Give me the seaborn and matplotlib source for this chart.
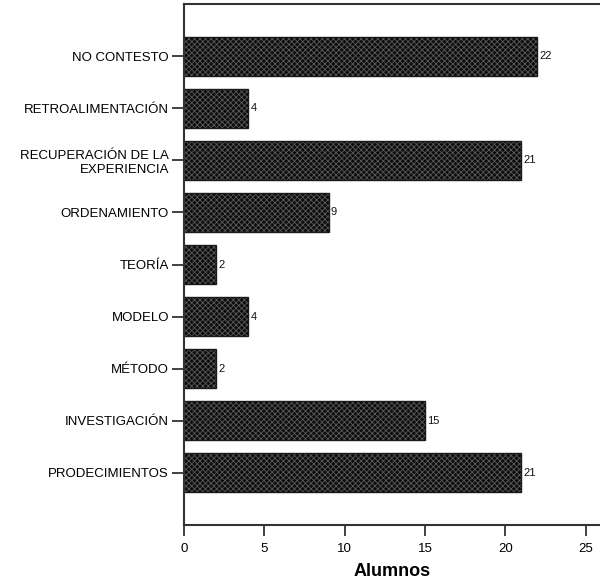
import matplotlib
matplotlib.use('Agg')
import matplotlib.pyplot as plt
from matplotlib.patches import Rectangle
import pandas as pd
import seaborn as sns

categorias = ['NO CONTESTO', 'RETROALIMENTACIÓN', 'RECUPERACIÓN DE LA\nEXPERIENCIA',
              'ORDENAMIENTO', 'TEORÍA', 'MODELO', 'MÉTODO', 'INVESTIGACIÓN',
              'PRODECIMIENTOS']
alumnos = [22, 4, 21, 9, 2, 4, 2, 15, 21]

sns.set_style('white')
plt.rcParams['font.family'] = ['Liberation Sans', 'DejaVu Sans']
plt.rcParams['hatch.linewidth'] = 0.6
plt.rcParams['text.color'] = 'black'

df = pd.DataFrame({'categoria': categorias, 'alumnos': alumnos})

fig = plt.figure(figsize=(6.00, 5.82), dpi=100)
ax = fig.add_axes([0.307, 0.098, 0.693, 0.895])

sns.barplot(data=df, y='categoria', x='alumnos', orient='h', color='#111111',
            width=0.75, ax=ax)

for p in list(ax.patches):
    p.set_facecolor('#0d0d0d')
    p.set_hatch('xxxxxx')
    p.set_edgecolor('#5a5a5a')
    p.set_linewidth(0)
    ax.add_patch(Rectangle(p.get_xy(), p.get_width(), p.get_height(),
                           fill=False, edgecolor='#1a1a1a', linewidth=1.0))

for i, v in enumerate(alumnos):
    ax.text(v + 0.12, i, str(v), va='center', ha='left', fontsize=8, color='#111111')

ax.set_xlim(0, 25.9)
ax.set_ylim(9, -1)
ax.set_xticks([0, 5, 10, 15, 20, 25])
ax.set_ylabel('')
ax.set_xlabel('Alumnos', fontsize=13, fontweight='bold', labelpad=6, color='black')

for s in ['left', 'bottom', 'top']:
    ax.spines[s].set_visible(True)
    ax.spines[s].set_color('#333333')
    ax.spines[s].set_linewidth(1.5)
ax.spines['right'].set_visible(False)

ax.tick_params(axis='y', left=True, length=9, width=1.3, color='#333333',
               labelsize=9.5, labelcolor='black', pad=2)
ax.tick_params(axis='x', bottom=True, length=8, width=1.3, color='#333333',
               labelsize=9.5, labelcolor='black', pad=5)
for lbl in ax.get_yticklabels():
    lbl.set_multialignment('right')

fig.savefig('out.png', dpi=100)
plt.close(fig)
